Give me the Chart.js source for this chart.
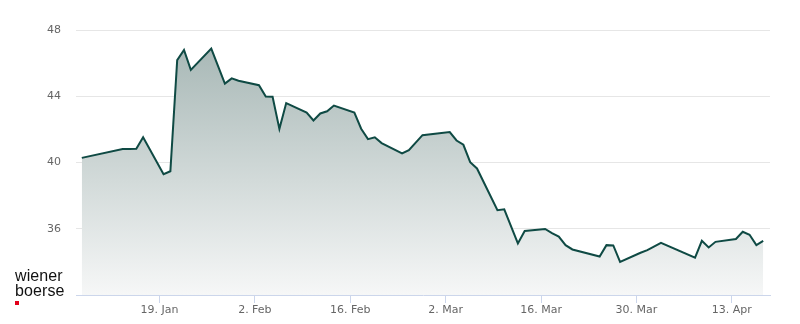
<!DOCTYPE html>
<html>
<head>
<meta charset="utf-8">
<script src="https://cdn.jsdelivr.net/npm/chart.js@4.4.1/dist/chart.umd.min.js"></script>
<style>
  html, body { margin: 0; padding: 0; background: #ffffff; }
  #wrap { position: relative; width: 800px; height: 324px; }
  #c { position: absolute; left: 0; top: 0; }
  .logo { position: absolute; left: 15px; font-family: "Liberation Sans", Arial, sans-serif; font-size: 16px; color: #111; line-height: 16px; letter-spacing: 0.1px; }
  #l1 { top: 268px; }
  #l2 { top: 283px; }
  #sq { position: absolute; left: 15px; top: 301px; width: 4px; height: 4px; background: #e2001a; }
</style>
</head>
<body>
<div id="wrap">
  <canvas id="c" width="800" height="324"></canvas>
  <div class="logo" id="l1">wiener</div>
  <div class="logo" id="l2">boerse</div>
  <div id="sq"></div>
</div>
<script>
const year = 2026;
const dates = [
  "2026-01-07","2026-01-13","2026-01-14","2026-01-15","2026-01-16",
  "2026-01-19","2026-01-20","2026-01-21","2026-01-22","2026-01-23",
  "2026-01-26","2026-01-28","2026-01-29","2026-01-30",
  "2026-02-02","2026-02-03","2026-02-04","2026-02-05","2026-02-06",
  "2026-02-09","2026-02-10","2026-02-11","2026-02-12","2026-02-13",
  "2026-02-16","2026-02-17","2026-02-18","2026-02-19","2026-02-20",
  "2026-02-23","2026-02-24","2026-02-26",
  "2026-03-02","2026-03-03","2026-03-04","2026-03-05","2026-03-06",
  "2026-03-09","2026-03-10","2026-03-12","2026-03-13",
  "2026-03-16","2026-03-17","2026-03-18","2026-03-19","2026-03-20",
  "2026-03-24","2026-03-25","2026-03-26","2026-03-27",
  "2026-03-30","2026-03-31","2026-04-02",
  "2026-04-07","2026-04-08","2026-04-09","2026-04-10",
  "2026-04-13","2026-04-14","2026-04-15","2026-04-16","2026-04-17"
];
const prices = [
  40.28, 40.82, 40.82, 40.83, 41.53,
  39.29, 39.47, 46.18, 46.79, 45.59,
  46.88, 44.76, 45.08, 44.94,
  44.67, 43.99, 43.97, 42.03, 43.59,
  43.02, 42.54, 42.96, 43.09, 43.44,
  43.01, 42.04, 41.41, 41.52, 41.17,
  40.55, 40.75, 41.65,
  41.84, 41.33, 41.07, 40.02, 39.64,
  37.12, 37.17, 35.11, 35.87,
  35.99, 35.74, 35.53, 35.01, 34.75,
  34.32, 35.01, 34.99, 34.00,
  34.55, 34.71, 35.15,
  34.26, 35.27, 34.87, 35.21,
  35.38, 35.82, 35.64, 35.01, 35.27
];
const tickDates = ["2026-01-19","2026-02-02","2026-02-16","2026-03-02","2026-03-16","2026-03-30","2026-04-13"];
const tickLabels = ["19. Jan","2. Feb","16. Feb","2. Mar","16. Mar","30. Mar","13. Apr"];
const yTicks = [36, 40, 44, 48];

const CLOSE_OFFSET = 0.6; // closing time within the day
function doy(s) {
  const [y, m, d] = s.split("-").map(Number);
  return (Date.UTC(y, m - 1, d) - Date.UTC(year, 0, 1)) / 86400000 + 1;
}
const points = dates.map((d, i) => ({ x: doy(d) + CLOSE_OFFSET, y: prices[i] }));
const tickVals = tickDates.map(doy);
const xMin = points[0].x - 0.85;
const xMax = points[points.length - 1].x + 1.0;

const font = { family: "'DejaVu Sans', sans-serif", size: 11 };

new Chart(document.getElementById('c'), {
  type: 'line',
  data: {
    datasets: [{
      data: points,
      borderColor: '#0f4a44',
      borderWidth: 2,
      pointRadius: 0,
      tension: 0,
      fill: 'start',
      backgroundColor: (ctx) => {
        const area = ctx.chart.chartArea;
        if (!area) return 'rgba(0,0,0,0)';
        const g = ctx.chart.ctx.createLinearGradient(0, area.top, 0, area.bottom);
        g.addColorStop(0, '#a3b4b2');
        g.addColorStop(1, '#f6f7f7');
        return g;
      }
    }]
  },
  options: {
    responsive: false,
    animation: false,
    layout: { padding: { left: 0, right: 30, top: 30, bottom: 0 } },
    plugins: { legend: { display: false }, tooltip: { enabled: false } },
    scales: {
      x: {
        type: 'linear',
        min: xMin,
        max: xMax,
        afterBuildTicks: (s) => { s.ticks = tickVals.map(v => ({ value: v })); },
        afterFit: (s) => { s.height = 29; },
        ticks: {
          autoSkip: false,
          maxRotation: 0,
          color: '#666666',
          font: font,
          padding: 1,
          callback: (v) => { const i = tickVals.indexOf(v); return i >= 0 ? tickLabels[i] : ''; }
        },
        grid: { drawOnChartArea: false, drawTicks: true, tickLength: 8, color: '#ccd6eb', lineWidth: 1 },
        border: { display: true, color: '#ccd6eb', width: 1 }
      },
      y: {
        min: 32,
        max: 48,
        afterBuildTicks: (s) => { s.ticks = yTicks.map(v => ({ value: v })); },
        afterFit: (s) => { s.width = 76; },
        ticks: { color: '#666666', font: font, padding: 15 },
        grid: { color: '#e6e6e6', drawTicks: false, lineWidth: 1 },
        border: { display: false }
      }
    }
  }
});
</script>
</body>
</html>
